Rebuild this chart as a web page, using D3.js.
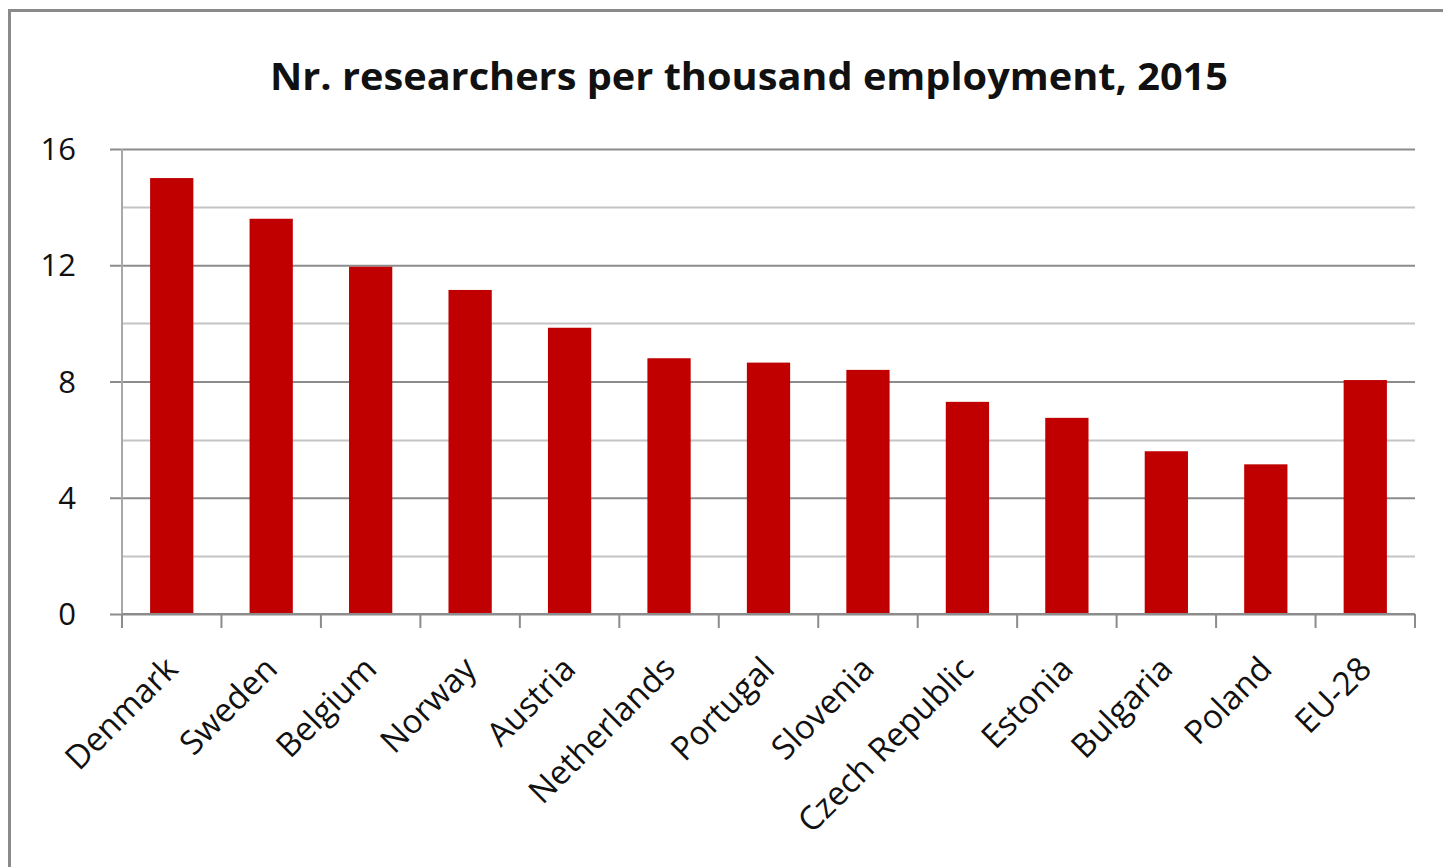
<!DOCTYPE html>
<meta charset="utf-8">
<script src="https://d3js.org/d3.v7.min.js"></script>
<style>
  body { margin: 0; background: #fff; }
  text { font-family: "Open Sans", Lato, sans-serif; fill: #111; }
</style>
<body>
<div id="chart"></div>
<script>
  // data
  var countries = ["Denmark", "Sweden", "Belgium", "Norway", "Austria", "Netherlands",
    "Portugal", "Slovenia", "Czech Republic", "Estonia", "Bulgaria", "Poland", "EU-28"];
  var researchers = [15.0, 13.6, 11.95, 11.15, 9.85, 8.8, 8.65, 8.4, 7.3, 6.75, 5.6, 5.15, 8.05];
  var yTicks = [0, 4, 8, 12, 16];
  var yMinor = [2, 6, 10, 14];

  var width = 1443, height = 867;
  var margin = { top: 149, right: 28, bottom: 253, left: 122 };

  var svg = d3.select("#chart").append("svg")
    .attr("width", width)
    .attr("height", height);

  // outer frame
  svg.append("rect")
    .attr("x", 9.5).attr("y", 10.5)
    .attr("width", width + 20).attr("height", height + 20)
    .attr("fill", "white")
    .attr("stroke", "#8a8a8a")
    .attr("stroke-width", 3);

  svg.append("text")
    .attr("x", 749).attr("y", 90)
    .attr("text-anchor", "middle")
    .style("font-size", "38px")
    .style("font-weight", "bold")
    .attr("textLength", 958)
    .attr("lengthAdjust", "spacingAndGlyphs")
    .text("Nr. researchers per thousand  employment, 2015");

  var x = d3.scaleBand()
    .domain(countries)
    .range([margin.left, width - margin.right])
    .paddingInner(0.565)
    .paddingOuter(0.2825);

  var y = d3.scaleLinear()
    .domain([0, 16])
    .range([height - margin.bottom, margin.top]);

  // minor gridlines
  svg.append("g").selectAll("line")
    .data(yMinor)
    .join("line")
    .attr("x1", margin.left).attr("x2", width - margin.right)
    .attr("y1", function (d) { return Math.round(y(d)) + 0.5; })
    .attr("y2", function (d) { return Math.round(y(d)) + 0.5; })
    .attr("stroke", "#c4c4c4")
    .attr("stroke-width", 2);

  // major gridlines with left ticks
  var yAxis = d3.axisLeft(y)
    .tickValues(yTicks)
    .tickSize(-(width - margin.right - margin.left))
    .tickPadding(0)
    .tickFormat(d3.format("d"));

  var gy = svg.append("g")
    .attr("transform", "translate(" + margin.left + ",0)")
    .call(yAxis);
  gy.select(".domain").remove();
  gy.selectAll(".tick line")
    .attr("x1", -12)
    .attr("stroke", "#8c8c8c")
    .attr("stroke-width", 2);
  gy.selectAll(".tick text")
    .attr("x", -46)
    .attr("dy", "0.34em")
    .style("font-size", "31px")
    .style("fill", "#111");

  // vertical axis line
  svg.append("line")
    .attr("x1", margin.left).attr("x2", margin.left)
    .attr("y1", margin.top).attr("y2", y(0) + 14)
    .attr("stroke", "#a8a8a8")
    .attr("stroke-width", 2);

  // bars
  svg.append("g").selectAll("rect")
    .data(researchers)
    .join("rect")
    .attr("x", function (d, i) { return x(countries[i]); })
    .attr("y", function (d) { return y(d); })
    .attr("width", x.bandwidth())
    .attr("height", function (d) { return y(0) - y(d); })
    .attr("fill", "#c00000");

  // x axis with ticks at band edges
  var step = x.step();
  var edges = d3.range(countries.length + 1).map(function (i) {
    return margin.left + i * step;
  });
  svg.append("line")
    .attr("x1", margin.left).attr("x2", width - margin.right)
    .attr("y1", y(0)).attr("y2", y(0))
    .attr("stroke", "#8c8c8c")
    .attr("stroke-width", 2);
  svg.append("g").selectAll("line")
    .data(edges)
    .join("line")
    .attr("x1", function (d) { return d; }).attr("x2", function (d) { return d; })
    .attr("y1", y(0)).attr("y2", y(0) + 14)
    .attr("stroke", "#8c8c8c")
    .attr("stroke-width", 2);

  svg.append("g").selectAll("text")
    .data(countries)
    .join("text")
    .attr("text-anchor", "end")
    .attr("transform", function (d) {
      var cx = x(d) + x.bandwidth() / 2 + 8;
      return "translate(" + cx + "," + (y(0) + 57) + ") rotate(-45)";
    })
    .style("font-size", "33px")
    .text(function (d) { return d; });
</script>
</body>
